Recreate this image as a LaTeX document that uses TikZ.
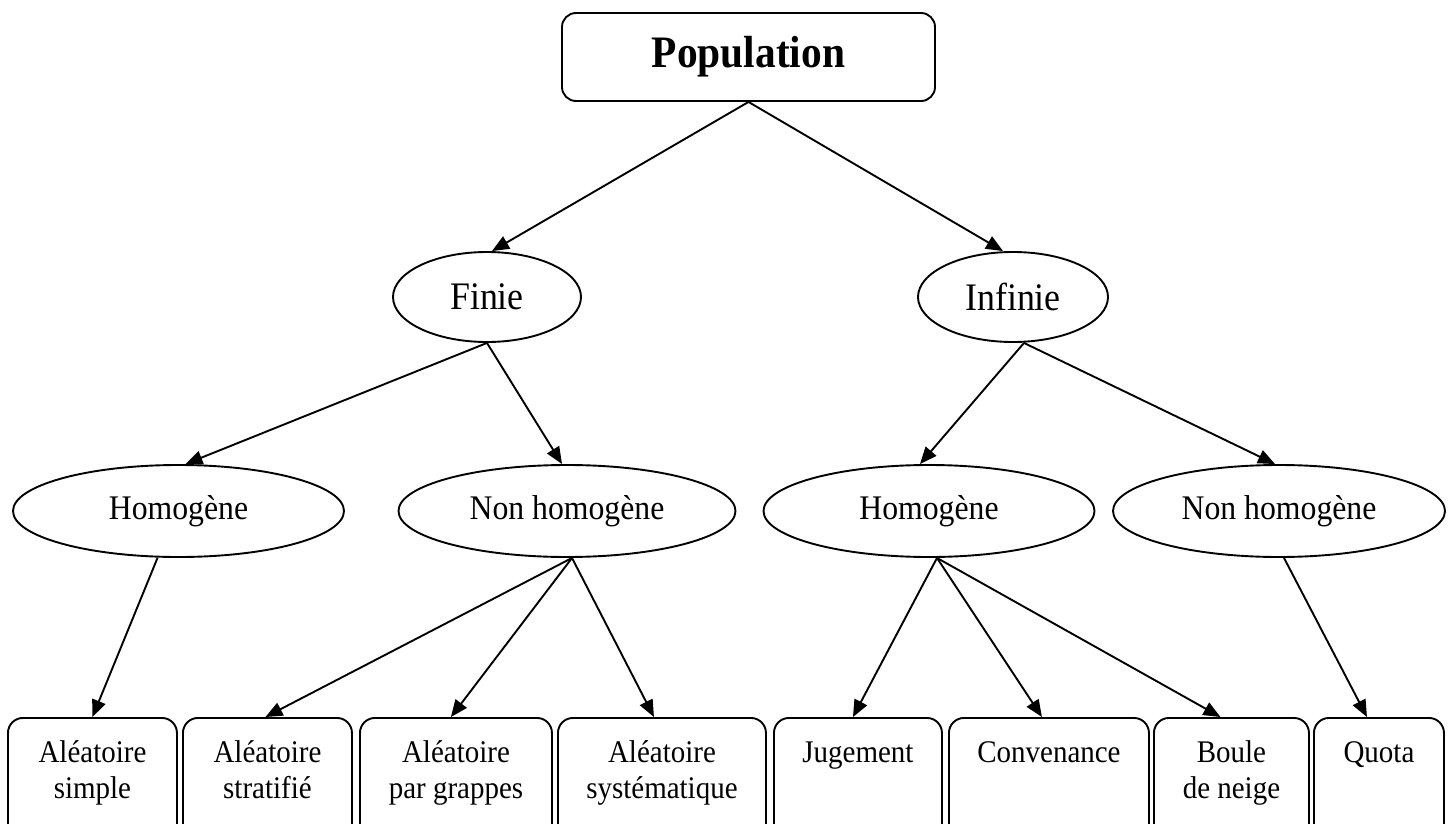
\documentclass[tikz,border=0pt]{standalone}
\usepackage{fontspec}
\setmainfont{Liberation Serif}[FakeStretch=0.92]
\usetikzlibrary{shapes.geometric,arrows.meta}
\begin{document}
\begin{tikzpicture}[x=1pt,y=-1pt,line width=1.9pt,
  popbox/.style={draw, rounded corners=14pt, minimum width=373pt, minimum height=88pt, inner sep=0pt, font=\fontsize{45}{52}\selectfont\bfseries},
  oval/.style={draw, ellipse, inner sep=0pt, minimum height=92pt, font=\fontsize{34.5}{40}\selectfont},
  bigoval/.style={draw, ellipse, inner sep=0pt, minimum height=90pt, font=\fontsize{39}{44}\selectfont},
  leafbox/.style={draw, rounded corners=15pt, minimum height=150pt, inner sep=0pt, anchor=north west},
  leaftext/.style={font=\fontsize{31.5}{38}\selectfont, inner sep=0pt, anchor=base},
  link/.style={-{Triangle[length=17pt,width=14pt]}}
]
\useasboundingbox (0,0) rectangle (1456,824);
\clip (0,0) rectangle (1456,824);

% top
\node[popbox] (pop) at (748.5,57) {Population};

% level 1
\node[bigoval, minimum width=188pt] (fin) at (487,297) {Finie};
\node[bigoval, minimum width=190pt] (inf) at (1013,297) {Infinie};

% level 2
\node[oval, minimum width=331pt] (hl) at (178.5,511) {Homogène};
\node[oval, minimum width=337pt] (nhl) at (567,511) {Non homogène};
\node[oval, minimum width=331pt] (hr) at (929,511) {Homogène};
\node[oval, minimum width=332pt] (nhr) at (1279,511) {Non homogène};

% leaves
\node[leafbox, minimum width=169pt] (b1) at (7,717) {};
\node[leafbox, minimum width=169pt] (b2) at (182,717) {};
\node[leafbox, minimum width=192pt] (b3) at (359,717) {};
\node[leafbox, minimum width=208pt] (b4) at (557,717) {};
\node[leafbox, minimum width=168pt] (b5) at (773,717) {};
\node[leafbox, minimum width=200pt] (b6) at (948,717) {};
\node[leafbox, minimum width=155pt] (b7) at (1153,717) {};
\node[leafbox, minimum width=130pt] (b8) at (1313,717) {};

\node[leaftext] (t1a) at ([yshift=-45pt]b1.north) {Aléatoire};
\node[leaftext] (t1b) at ([yshift=-81pt]b1.north) {simple};
\node[leaftext] (t2a) at ([yshift=-45pt]b2.north) {Aléatoire};
\node[leaftext] (t2b) at ([yshift=-81pt]b2.north) {stratifié};
\node[leaftext] (t3a) at ([yshift=-45pt]b3.north) {Aléatoire};
\node[leaftext] (t3b) at ([yshift=-81pt]b3.north) {par grappes};
\node[leaftext] (t4a) at ([yshift=-45pt]b4.north) {Aléatoire};
\node[leaftext] (t4b) at ([yshift=-81pt]b4.north) {systématique};
\node[leaftext] (t5a) at ([yshift=-45pt]b5.north) {Jugement};
\node[leaftext] (t6a) at ([yshift=-45pt]b6.north) {Convenance};
\node[leaftext] (t7a) at ([yshift=-45pt]b7.north) {Boule};
\node[leaftext] (t7b) at ([yshift=-81pt]b7.north) {de neige};
\node[leaftext] (t8a) at ([yshift=-45pt]b8.north) {Quota};

% connectors
\draw[link] (pop.south) -- ([xshift=5pt]fin.north);
\draw[link] (pop.south) -- ([xshift=-10pt]inf.north);

\draw[link] (fin.south) -- ([xshift=7pt]hl.north);
\draw[link] (fin.south) -- ([xshift=-5pt]nhl.north);
\draw[link] ([xshift=11pt]inf.south) -- ([xshift=-9pt]hr.north);
\draw[link] ([xshift=11pt]inf.south) -- ([xshift=-4pt]nhr.north);

\draw[link] ([xshift=-21pt]hl.south) -- (b1.north);
\draw[link] ([xshift=5pt]nhl.south) -- ([xshift=-2pt]b2.north);
\draw[link] ([xshift=5pt]nhl.south) -- ([xshift=-5pt]b3.north);
\draw[link] ([xshift=5pt]nhl.south) -- ([xshift=-8pt]b4.north);
\draw[link] ([xshift=8pt]hr.south) -- ([xshift=-5pt]b5.north);
\draw[link] ([xshift=8pt]hr.south) -- ([xshift=-7pt]b6.north);
\draw[link] ([xshift=8pt]hr.south) -- ([xshift=-11pt]b7.north);
\draw[link] ([xshift=5pt]nhr.south) -- ([xshift=-12pt]b8.north);
\end{tikzpicture}
\end{document}
